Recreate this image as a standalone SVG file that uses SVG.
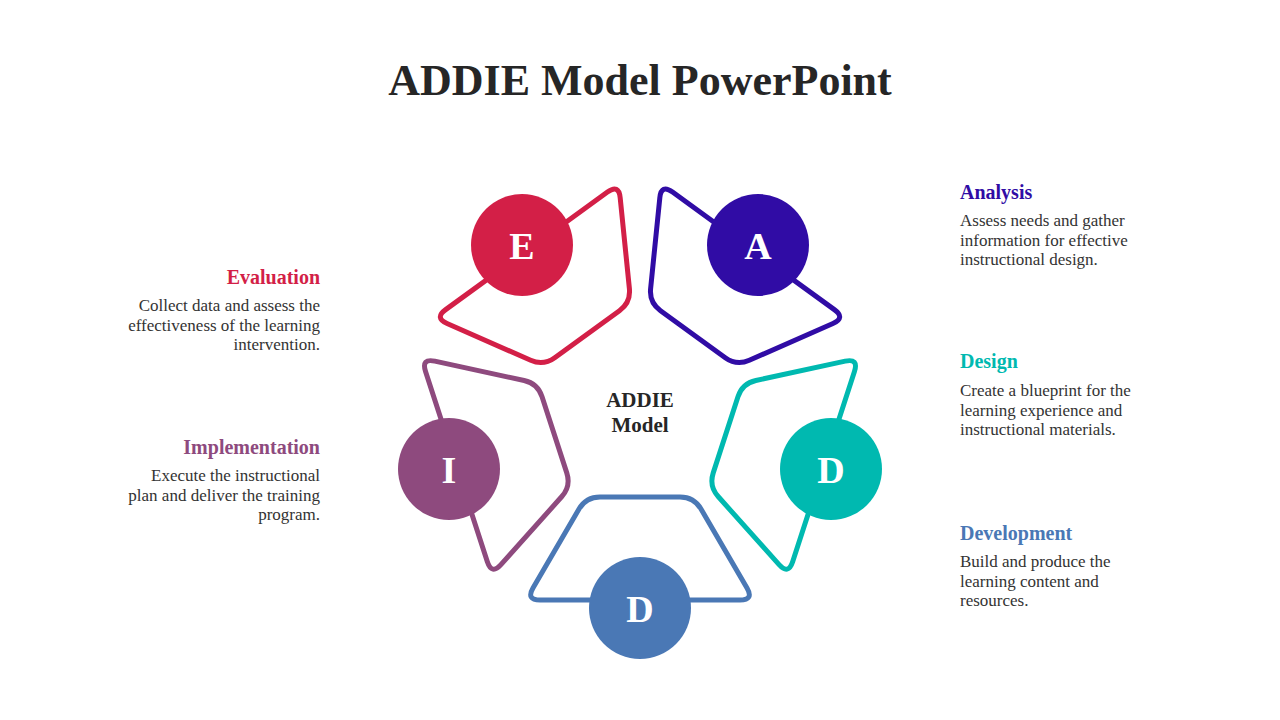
<svg xmlns="http://www.w3.org/2000/svg" width="1280" height="720" viewBox="0 0 1280 720">
<style>
text{font-family:"Liberation Serif","DejaVu Serif",serif}
.t{font-size:44px;font-weight:bold;fill:#262626}
.h{font-size:20px;font-weight:bold}
.b{font-size:17px;fill:#333}
.l{font-size:38px;font-weight:bold;fill:#fff}
.sh{fill:none;stroke-width:5}
</style>
<defs>
<path id="seg" d="M -40,90 L 40,90 Q 54,90 61,102 L 107,181 Q 114,193 100,193 L -100,193 Q -114,193 -107,181 L -61,102 Q -54,90 -40,90 Z"/>
</defs>
<rect width="1280" height="720" fill="#fff"/>
<text class="t" x="640" y="95" text-anchor="middle">ADDIE Model PowerPoint</text>
<g id="shapes" transform="translate(640,407)">
<use href="#seg" class="sh" stroke="#4A78B5"/>
<use href="#seg" class="sh" stroke="#8E4A7E" transform="rotate(72)"/>
<use href="#seg" class="sh" stroke="#D31F47" transform="rotate(144)"/>
<use href="#seg" class="sh" stroke="#300CA5" transform="rotate(216)"/>
<use href="#seg" class="sh" stroke="#00B9B0" transform="rotate(288)"/>
</g>
<g id="center"><text x="640" y="407" text-anchor="middle" font-size="21" font-weight="bold" fill="#262626">ADDIE</text><text x="640" y="432" text-anchor="middle" font-size="21" font-weight="bold" fill="#262626">Model</text></g>
<g id="nodeA"><circle cx="758" cy="245" r="51" fill="#300CA5"/><text class="l" x="758" y="259" text-anchor="middle">A</text></g>
<g id="nodeE"><circle cx="522" cy="245" r="51" fill="#D31F47"/><text class="l" x="522" y="259" text-anchor="middle">E</text></g>
<g id="nodeI"><circle cx="449" cy="469" r="51" fill="#8E4A7E"/><text class="l" x="449" y="483" text-anchor="middle">I</text></g>
<g id="nodeD1"><circle cx="831" cy="469" r="51" fill="#00B9B0"/><text class="l" x="831" y="483" text-anchor="middle">D</text></g>
<g id="nodeD2"><circle cx="640" cy="608" r="51" fill="#4A78B5"/><text class="l" x="640" y="622" text-anchor="middle">D</text></g>
<g id="analysis"><text class="h" x="960" y="199" fill="#300CA5">Analysis</text>
<text class="b" x="960" y="226">Assess needs and gather</text><text class="b" x="960" y="246">information for effective</text><text class="b" x="960" y="265">instructional design.</text></g>
<g id="design"><text class="h" x="960" y="368" fill="#00B9B0">Design</text>
<text class="b" x="960" y="396">Create a blueprint for the</text><text class="b" x="960" y="416">learning experience and</text><text class="b" x="960" y="435">instructional materials.</text></g>
<g id="development"><text class="h" x="960" y="540" fill="#4A78B5">Development</text>
<text class="b" x="960" y="567">Build and produce the</text><text class="b" x="960" y="587">learning content and</text><text class="b" x="960" y="606">resources.</text></g>
<g id="evaluation" text-anchor="end"><text class="h" x="320" y="284" fill="#D31F47">Evaluation</text>
<text class="b" x="320" y="311">Collect data and assess the</text><text class="b" x="320" y="331">effectiveness of the learning</text><text class="b" x="320" y="350">intervention.</text></g>
<g id="implementation" text-anchor="end"><text class="h" x="320" y="454" fill="#8E4A7E">Implementation</text>
<text class="b" x="320" y="481">Execute the instructional</text><text class="b" x="320" y="501">plan and deliver the training</text><text class="b" x="320" y="520">program.</text></g>
</svg>
